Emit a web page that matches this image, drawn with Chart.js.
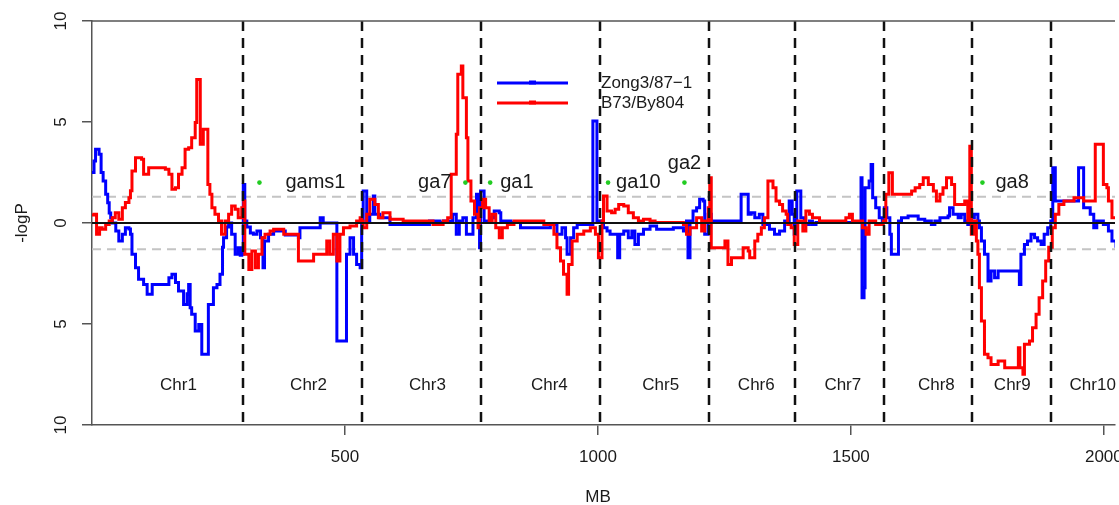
<!DOCTYPE html>
<html>
<head>
<meta charset="utf-8">
<script src="https://cdn.jsdelivr.net/npm/chart.js@4.4.0/dist/chart.umd.min.js"></script>
<style>
  html, body { margin: 0; padding: 0; background: #fff; overflow: hidden; }
</style>
</head>
<body>
<canvas id="qtl" width="1119" height="505"></canvas>
<script>
// chromosome layout (MB)
const chrNames = ['Chr1', 'Chr2', 'Chr3', 'Chr4', 'Chr5', 'Chr6', 'Chr7', 'Chr8', 'Chr9', 'Chr10'];
const chrBounds = [299, 533, 768, 1004, 1220, 1390, 1565, 1740, 1896];
const chrLabelMB = [171, 428, 663, 904, 1124, 1313, 1484, 1669, 1819, 1978];

// GA genes
const geneNames = ['gams1', 'ga7', 'ga1', 'ga10', 'ga2', 'ga8'];
const geneMB = [331, 738, 787, 1020, 1171, 1760];
const geneLogP = [2, 2, 2, 2, 2, 2];

const xTicks = [500, 1000, 1500, 2000];
const yTicks = [-10, -5, 0, 5, 10];
const sigLevel = 1.3;

// [MB, signed -logP]
const blueSteps = [
  [0,2.5],[4,3.07],[7,3.65],[14,3.4],[18,2.5],[22,2.08],[27,1.42],[31,1.0],[34,0.5],[37,0.26],[40,0.0],[47,-0.4],[53,-0.89],[60,-0.56],[66,-0.23],[73,-0.3],[76,-0.56],[79,-1.55],[86,-2.21],[92,-2.79],[102,-3.04],[109,-3.53],[119,-3.04],[152,-2.71],[158,-2.54],[165,-2.95],[171,-3.37],[181,-4.03],[188,-3.5],[191,-3.04],[194,-4.2],[197,-4.52],[204,-5.35],[211,-5.02],[217,-6.5],[228,-6.5],[230,-4.03],[240,-3.2],[247,-3.04],[253,-2.54],[258,-1.2],[260,-0.73],[266,-0.2],[270,0.0],[276,-0.56],[283,-1.55],[289,-1.22],[293,-1.6],[296,-1.55],[299,1.91],
  [302,0.1],[306,-0.2],[313,-0.5],[319,-0.56],[326,-0.4],[333,-0.73],[338,-2.21],[341,-0.89],[349,-0.56],[359,-0.4],[382,-0.6],[408,-0.73],[411,-0.23],[448,-0.23],[451,0.26],[457,0.0],[480,0.0],[484,-5.84],[500,-5.84],[503,-1.55],[510,-0.73],[517,-1.55],[523,-2.05],[530,-2.21],[533,0.1],[536,1.58],
  [543,0.1],[549,0.43],[556,1.34],[559,0.43],[569,0.26],[589,-0.07],[661,-0.07],[667,0.1],[687,0.02],[694,0.1],[713,0.43],[720,-0.56],[726,0.1],[733,0.26],[740,-0.56],[753,0.26],[760,1.42],[764,0.26],[766,-1.22],[768,1.58],
  [775,0.1],[788,0.26],[795,0.59],[805,0.51],[808,0.1],[828,0.02],[847,-0.23],[893,-0.23],[906,-0.07],[919,-0.56],[929,-0.23],[936,-0.73],[939,-1.55],[946,-0.73],[952,-0.23],[959,-0.07],[988,-0.07],[990,5.05],[997,5.05],[998,0.1],
  [1005,0.1],[1011,-0.23],[1018,-0.4],[1024,-0.56],[1039,-1.72],[1043,-0.56],[1051,-0.4],[1060,-0.73],[1067,-0.4],[1073,-1.06],[1080,-0.56],[1090,-0.31],[1103,-0.15],[1116,-0.31],[1149,-0.23],[1169,-0.4],[1175,0.1],[1178,-1.72],[1182,0.1],[1188,0.59],[1195,0.76],[1201,1.17],[1208,1.09],[1211,-0.56],[1218,0.43],[1224,0.1],
  [1280,0.1],[1283,1.42],[1293,1.42],[1297,0.43],[1303,0.51],[1310,0.26],[1319,0.43],[1326,-0.07],[1339,-0.31],[1349,-0.56],[1359,-0.4],[1369,0.1],[1378,1.09],[1384,0.43],[1388,-0.56],[1393,1.58],[1401,0.26],[1408,-0.07],[1418,0.1],[1424,-0.07],
  [1431,0.02],[1516,0.02],[1520,2.24],[1522,-3.7],[1526,-3.2],[1528,1.75],[1536,2.08],[1540,2.9],[1543,1.25],[1549,0.76],[1556,0.26],[1562,0.1],[1566,0.76],[1571,0.26],[1577,-0.56],[1580,-1.55],[1590,-1.55],[1594,0.1],[1600,0.26],[1613,0.35],[1633,0.18],[1646,0.1],[1659,-0.07],[1666,0.1],[1676,0.26],[1692,0.35],[1695,0.76],[1702,0.43],[1712,0.26],[1718,0.43],[1725,0.1],[1731,-0.07],[1738,0.26],[1744,0.43],[1751,0.1],[1754,-0.23],
  [1758,-0.89],[1764,-1.55],[1771,-2.87],[1777,-2.38],[1784,-2.71],[1791,-2.38],[1830,-2.38],[1833,-3.04],[1836,-1.55],[1843,-1.06],[1849,-0.89],[1856,-0.56],[1863,-0.73],[1869,-0.89],[1876,-1.06],[1882,-0.56],[1889,-0.23],[1895,0.1],[1899,2.74],
  [1904,1.09],[1950,2.74],[1957,2.74],[1960,0.76],[1973,0.43],[1980,-0.23],[1986,0.1],[1999,-0.07],[2009,-0.4],[2016,-0.89],[2024,-1.22]
];

const redSteps = [
  [0,0.4],[4,0.43],[9,-0.56],[15,-0.23],[20,-0.31],[27,-0.07],[34,0.1],[40,0.26],[46,0.51],[53,0.18],[60,0.76],[66,1.01],[73,1.25],[76,1.6],[79,2.57],[86,3.23],[98,3.15],[102,2.41],[112,2.74],[145,2.66],[152,2.41],[158,1.67],[165,1.75],[171,2.41],[178,2.74],[184,3.65],[191,3.73],[197,4.22],[204,4.97],[207,7.11],[212,7.11],[214,3.9],[220,4.64],[227,4.64],[229,1.91],[233,1.42],[237,0.76],[243,0.43],[250,0.1],[256,-0.56],[263,0.1],[270,0.43],[276,0.84],[283,0.68],[289,0.26],[296,0.76],[300,1.09],[302,-1.55],
  [306,-1.55],[310,-2.3],[316,-1.39],[323,-2.21],[329,-1.55],[336,-0.73],[342,-0.56],[352,-0.4],[359,-0.31],[379,-0.56],[408,-1.88],[431,-1.88],[438,-1.55],[464,-0.89],[470,-1.55],[477,-0.56],[484,-1.88],[490,-0.56],[497,-0.23],[510,-0.15],[523,0.1],[530,0.26],[533,0.1],
  [536,-0.23],[543,0.43],[549,1.17],[559,0.92],[566,0.26],[575,0.51],[589,0.18],[615,0.1],[674,-0.07],[694,0.1],[703,0.26],[710,2.41],[720,4.39],[723,7.36],[730,7.77],[733,6.2],[740,4.22],[743,2.08],[749,1.09],[756,0.43],[763,-0.23],[766,0.76],[772,1.17],[778,0.76],[785,0.1],[791,0.43],[798,-0.23],[805,-0.73],[811,-0.23],[821,-0.07],[834,0.1],[893,-0.07],[913,-0.56],[919,-1.22],[926,-1.88],[932,-2.54],[939,-3.53],[942,-2.05],[949,-0.89],[959,-0.56],[972,-0.4],[985,-0.23],[995,-0.56],[1001,-1.72],
  [1008,0.1],[1011,1.34],[1018,0.59],[1027,0.51],[1034,0.68],[1041,0.92],[1051,0.84],[1060,0.51],[1070,0.26],[1080,0.1],[1090,0.18],[1103,0.1],[1113,0.02],[1169,-0.07],[1175,-0.56],[1182,-0.23],[1195,0.26],[1205,-0.4],[1211,0.1],[1218,0.76],[1221,2.24],[1224,-1.22],
  [1251,-0.89],[1257,-2.05],[1264,-1.72],[1287,-1.22],[1297,-1.39],[1300,-1.72],[1310,-0.89],[1316,-0.56],[1323,-0.23],[1329,0.26],[1336,2.08],[1346,1.75],[1352,1.09],[1359,0.92],[1365,0.59],[1372,0.43],[1375,-0.07],[1382,-0.23],[1388,-1.06],[1395,0.1],[1405,-0.4],[1411,0.59],[1418,0.43],[1424,0.26],[1438,0.1],[1490,0.26],[1497,0.43],[1503,0.1],[1523,-0.23],[1530,-0.56],[1536,0.1],[1549,-0.07],[1564,0.1],[1569,1.42],[1575,2.49],[1582,1.42],[1620,1.58],[1627,1.75],[1636,1.91],[1643,2.24],[1653,1.91],[1663,1.58],[1669,1.09],[1676,1.42],[1682,1.75],[1689,2.24],[1699,1.91],[1705,0.92],[1725,1.09],[1731,0.1],[1735,3.8],[1738,-0.56],[1744,0.1],
  [1748,-0.89],[1751,-1.55],[1754,-3.2],[1758,-4.85],[1764,-6.5],[1771,-6.67],[1777,-7.0],[1791,-6.83],[1804,-7.16],[1830,-7.16],[1831,-6.17],[1834,-7.16],[1840,-7.49],[1843,-6.0],[1853,-5.84],[1859,-5.18],[1866,-4.52],[1872,-3.7],[1879,-2.87],[1885,-1.88],[1891,-1.2],[1898,-0.23],[1904,0.43],[1911,0.92],[1921,1.09],[1941,1.25],[1960,1.09],[1983,3.9],[1996,3.9],[1999,1.91],[2006,1.75],[2009,1.09],[2016,0.26],[2024,0.26]
];

const FONT = '"Liberation Sans", Arial, Helvetica, sans-serif';
const TXT = '#1a1a1a';
const FRAME = '#555';

// label placement for genes: [dx, align, dy]
const geneLabelPos = {
  gams1: [26, 'left', 0], ga7: [-14, 'right', 0], ga1: [10, 'left', 0],
  ga10: [8, 'left', 0], ga2: [0, 'center', -19], ga8: [13, 'left', 0]
};

const toPts = steps => steps.map(p => ({x: p[0], y: p[1]}));

function hline(ctx, a, py) {
  ctx.beginPath(); ctx.moveTo(a.left, py); ctx.lineTo(a.right, py); ctx.stroke();
}

// keep the plot area flush with the canvas edge (no room for overflowing tick labels)
function noEdgePadding(s) {
  s.paddingLeft = 0; s.paddingRight = 0; s.paddingTop = 0; s.paddingBottom = 0;
}

const overlay = {
  id: 'overlay',
  beforeDatasetsDraw(chart) {
    const {ctx, chartArea: a, scales: {y}} = chart;
    ctx.save();
    ctx.strokeStyle = '#c4c4c4';
    ctx.lineWidth = 2;
    ctx.setLineDash([9, 6]);
    hline(ctx, a, y.getPixelForValue(sigLevel));
    hline(ctx, a, y.getPixelForValue(-sigLevel));
    ctx.restore();
  },
  afterDatasetsDraw(chart) {
    const {ctx, chartArea: a, scales: {x, y}} = chart;
    ctx.save();
    // zero line
    ctx.strokeStyle = '#111';
    ctx.lineWidth = 2;
    hline(ctx, a, y.getPixelForValue(0));
    // chromosome boundaries
    ctx.setLineDash([10, 7]);
    ctx.lineWidth = 2.5;
    chrBounds.forEach(b => {
      const px = Math.round(x.getPixelForValue(b));
      ctx.beginPath(); ctx.moveTo(px, a.top); ctx.lineTo(px, a.bottom); ctx.stroke();
    });
    ctx.setLineDash([]);
    // top frame
    ctx.strokeStyle = FRAME;
    ctx.lineWidth = 1.5;
    hline(ctx, a, a.top);

    ctx.fillStyle = TXT;
    ctx.textBaseline = 'middle';
    // chromosome names
    ctx.font = '17px ' + FONT;
    ctx.textAlign = 'center';
    chrNames.forEach((n, i) => ctx.fillText(n, x.getPixelForValue(chrLabelMB[i]), 385));

    // gene names
    ctx.font = '20px ' + FONT;
    geneNames.forEach((g, i) => {
      const [dx, al, dy] = geneLabelPos[g];
      ctx.textAlign = al;
      ctx.fillText(g, x.getPixelForValue(geneMB[i]) + dx, y.getPixelForValue(geneLogP[i]) + dy);
    });

    // legend
    const leg = [['Zong3/87\u22121', '#0000ff', 83], ['B73/By804', '#ff0000', 103]];
    leg.forEach(([lab, col, ly]) => {
      ctx.strokeStyle = col;
      ctx.lineWidth = 3;
      ctx.beginPath(); ctx.moveTo(497, ly); ctx.lineTo(568, ly); ctx.stroke();
      ctx.fillStyle = col;
      ctx.fillRect(529, ly - 2.5, 7, 4);
      ctx.fillStyle = TXT;
      ctx.font = '17px ' + FONT;
      ctx.textAlign = 'left';
      ctx.fillText(lab, 601, ly);
    });

    // rotated y tick labels
    ctx.font = '17px ' + FONT;
    ctx.textAlign = 'center';
    yTicks.forEach(v => {
      ctx.save();
      ctx.translate(61, y.getPixelForValue(v));
      ctx.rotate(-Math.PI / 2);
      ctx.fillText(String(Math.abs(v)), 0, 0);
      ctx.restore();
    });
    // axis titles
    ctx.save();
    ctx.translate(22, y.getPixelForValue(0));
    ctx.rotate(-Math.PI / 2);
    ctx.fillText('-logP', 0, 0);
    ctx.restore();
    ctx.fillText('MB', 598, 497);
    ctx.restore();
  }
};

new Chart(document.getElementById('qtl'), {
  type: 'line',
  data: {
    datasets: [
      {
        type: 'scatter',
        label: 'genes',
        data: geneMB.map((m, i) => ({x: m, y: geneLogP[i]})),
        pointRadius: 2.3,
        pointBackgroundColor: '#22cc22',
        pointBorderWidth: 0,
        showLine: false
      },
      {
        label: 'B73/By804',
        data: toPts(redSteps),
        borderColor: '#ff0000',
        borderWidth: 3,
        stepped: 'before',
        pointRadius: 0,
        fill: false
      },
      {
        label: 'Zong3/87-1',
        data: toPts(blueSteps),
        borderColor: '#0000ff',
        borderWidth: 3,
        stepped: 'before',
        pointRadius: 0,
        fill: false
      }
    ]
  },
  options: {
    responsive: false,
    animation: false,
    devicePixelRatio: 1,
    layout: { padding: { top: 21, left: 0, right: 0, bottom: 0 } },
    plugins: { legend: { display: false }, tooltip: { enabled: false } },
    scales: {
      x: {
        type: 'linear',
        min: 0,
        max: 2022,
        afterBuildTicks: s => { s.ticks = xTicks.map(v => ({value: v})); },
        afterFit: s => { s.height = 80; noEdgePadding(s); },
        grid: { drawOnChartArea: false, drawTicks: true, tickLength: 10, color: FRAME, lineWidth: 1.5 },
        border: { display: true, color: FRAME, width: 1.5 },
        ticks: { color: TXT, font: { size: 17, family: FONT }, padding: 12, maxRotation: 0,
                 callback: v => String(v) }
      },
      y: {
        type: 'linear',
        min: -10,
        max: 10,
        afterBuildTicks: s => { s.ticks = yTicks.map(v => ({value: v})); },
        afterFit: s => { s.width = 92; noEdgePadding(s); },
        grid: { drawOnChartArea: false, drawTicks: true, tickLength: 10, color: FRAME, lineWidth: 1.5 },
        border: { display: true, color: FRAME, width: 1.5 },
        ticks: { color: 'rgba(0,0,0,0)', font: { size: 17, family: FONT } }
      }
    }
  },
  plugins: [overlay]
});
</script>
</body>
</html>
